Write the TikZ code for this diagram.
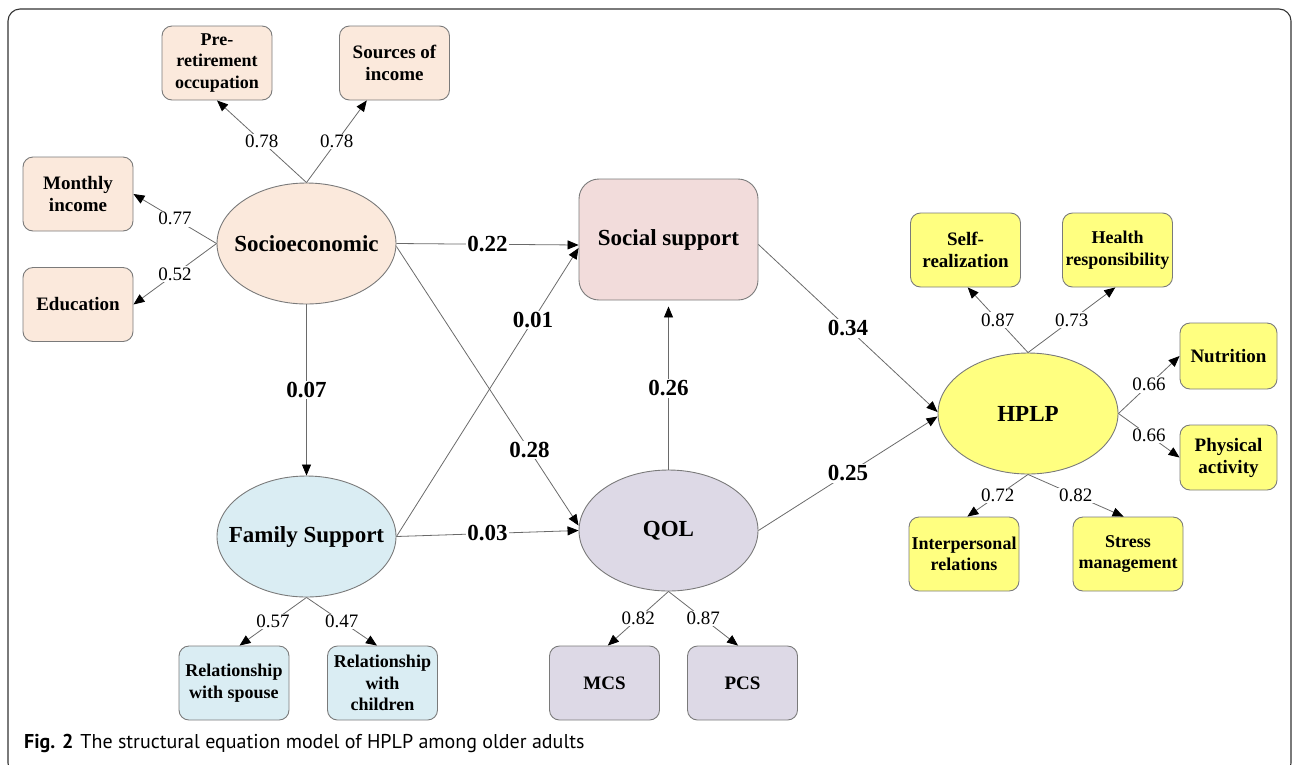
\documentclass[tikz,border=0pt]{standalone}
\usepackage{fontspec}
\setmainfont{Liberation Serif}
\newfontfamily\capfont{PT Sans}
\usetikzlibrary{arrows.meta,shapes.geometric,calc}
\definecolor{seF}{HTML}{FBE9DC}
\definecolor{fsF}{HTML}{DAEDF3}
\definecolor{ssF}{HTML}{F2DCDB}
\definecolor{qolF}{HTML}{DDD9E6}
\definecolor{hpF}{HTML}{FFFF80}
\definecolor{edgec}{HTML}{6A6A6A}
\definecolor{bord}{HTML}{7A7A7A}
\begin{document}
\begin{tikzpicture}[x=1pt,y=-1pt,
 obs/.style={draw=bord, line width=0.9pt, rounded corners=10pt, minimum width=110pt, minimum height=74pt, align=center, inner sep=1pt, font=\fontsize{19}{22}\selectfont\bfseries},
 obss/.style={obs, font=\fontsize{18}{21.5}\selectfont\bfseries},
 lat/.style={ellipse, draw=bord, line width=0.9pt, minimum width=179pt, minimum height=121pt, inner xsep=-30pt, inner ysep=-10pt, font=\fontsize{23}{27}\selectfont\bfseries},
 link/.style={draw=edgec, line width=0.8pt, -{Triangle[length=11pt,width=9pt,color=black]}},
 lbl/.style={fill=white, inner sep=1.5pt, font=\fontsize{19}{22}\selectfont},
 blbl/.style={fill=white, inner sep=1.5pt, font=\fontsize{23}{27}\selectfont\bfseries},
]
\useasboundingbox (0,0) rectangle (1292,764);
\begin{scope}
\clip (0,0) rectangle (1292,764);
\draw[draw=black!80, line width=1.1pt, rounded corners=12pt] (8,9) rectangle (1291,775);
\end{scope}

% Socioeconomic block
\node[lat, fill=seF] (se) at (306.5,243.5) {Socioeconomic};
\node[obss, fill=seF] (pre) at (217,63) {Pre-\\retirement\\occupation};
\node[obs, fill=seF] (src) at (394.5,63) {Sources of\\income};
\node[obs, fill=seF] (mon) at (78,194) {Monthly\\income};
\node[obs, fill=seF] (edu) at (78,304.5) {Education};

% Family support block
\node[lat, fill=fsF] (fs) at (306.5,536.5) {Family Support};
\node[obss, fill=fsF] (spo) at (234,683) {Relationship\\with spouse};
\node[obss, fill=fsF] (chi) at (382.5,683) {Relationship\\with\\children};

% Social support
\node[draw=bord, line width=0.9pt, rounded corners=20pt, minimum width=179pt, minimum height=121pt, fill=ssF, font=\fontsize{23}{27}\selectfont\bfseries] (ss) at (668.5,239.5) {Social support};

% QOL block
\node[lat, fill=qolF] (qol) at (668.5,530.5) {QOL};
\node[obs, fill=qolF] (mcs) at (604.5,683) {MCS};
\node[obs, fill=qolF] (pcs) at (742.5,683) {PCS};

% HPLP block
\node[lat, fill=hpF, minimum width=180pt] (hp) at (1028,413.5) {HPLP};
\node[obs, fill=hpF] (self) at (965.5,250) {Self-\\realization};
\node[obss, fill=hpF] (hr) at (1117.5,250) {Health\\responsibility};
\node[obs, fill=hpF, minimum width=97pt, minimum height=66pt] (nut) at (1228.5,356) {Nutrition};
\node[obs, fill=hpF, minimum width=97pt, minimum height=65pt] (pa) at (1228.5,457.5) {Physical\\activity};
\node[obss, fill=hpF] (ip) at (964,554) {Interpersonal\\relations};
\node[obss, fill=hpF] (sm) at (1128,554) {Stress\\management};

% measurement links
\draw[link] (se.north) -- node[lbl,pos=0.5]{0.78} (pre.south);
\draw[link] (se.north) -- node[lbl,pos=0.5]{0.78} ($(src.south west)!0.25!(src.south east)$);
\draw[link] (se.west) -- node[lbl,pos=0.5]{0.77} (mon.east);
\draw[link] (se.west) -- node[lbl,pos=0.5]{0.52} (edu.east);

\draw[link] (fs.south) -- node[lbl,pos=0.5]{0.57} ($(spo.north west)!0.55!(spo.north east)$);
\draw[link] (fs.south) -- node[lbl,pos=0.5]{0.47} ($(chi.north west)!0.45!(chi.north east)$);

\draw[link] (qol.south) -- node[lbl,pos=0.5]{0.82} ($(mcs.north west)!0.53!(mcs.north east)$);
\draw[link] (qol.south) -- node[lbl,pos=0.5]{0.87} ($(pcs.north west)!0.46!(pcs.north east)$);

\draw[link] (hp.north) -- node[lbl,pos=0.5]{0.87} ($(self.south west)!0.52!(self.south east)$);
\draw[link] (hp.north) -- node[lbl,pos=0.5]{0.73} ($(hr.south west)!0.48!(hr.south east)$);
\draw[link] (hp.east) -- node[lbl,pos=0.5]{0.66} (nut.west);
\draw[link] (hp.east) -- node[lbl,pos=0.5]{0.66} (pa.west);
\draw[link] (hp.south) -- node[lbl,pos=0.5]{0.72} ($(ip.north west)!0.53!(ip.north east)$);
\draw[link] (hp.south) -- node[lbl,pos=0.5]{0.82} ($(sm.north west)!0.46!(sm.north east)$);

% structural links
\draw[link] (se.south) -- node[blbl,pos=0.5]{0.07} (fs.north);
\draw[link] (se.east) -- node[blbl,pos=0.5]{0.22} ($(ss.west)+(0,5.5)$);
\draw[link] (fs.east) -- node[blbl,pos=0.75]{0.01} ($(ss.west)+(0,8.5)$);
\draw[link] ($(se.east)+(0,3)$) -- node[blbl,pos=0.73]{0.28} ($(qol.west)+(0,-5)$);
\draw[link] (fs.east) -- node[blbl,pos=0.5]{0.03} (qol.west);
\draw[link, shorten >=6pt] (qol.north) -- node[blbl,pos=0.48]{0.26} (ss.south);
\draw[link] ($(ss.east)+(0,5)$) -- node[blbl,pos=0.5]{0.34} ($(hp.west)+(0,-1.5)$);
\draw[link] (qol.east) -- node[blbl,pos=0.5]{0.25} ($(hp.west)+(0,3)$);

% caption
\node[anchor=base west, inner sep=0pt, font=\capfont\fontsize{20}{24}\selectfont] (cap) at (24,748) {\textbf{Fig. 2}\hspace{7pt}The structural equation model of HPLP among older adults};
\end{tikzpicture}
\end{document}
